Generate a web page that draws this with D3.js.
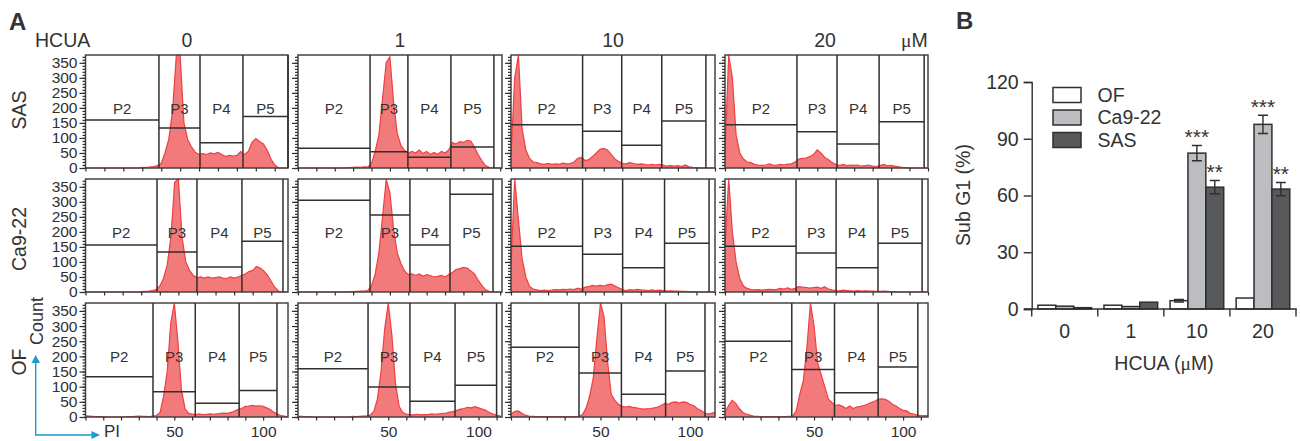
<!DOCTYPE html>
<html>
<head>
<meta charset="utf-8">
<script src="https://cdn.jsdelivr.net/npm/d3@7"></script>
<style>
body { margin: 0; background: #fff; }
text { font-family: "Liberation Sans", Arial, sans-serif; fill: #333; }
.mu { font-family: "Liberation Serif", serif; }
</style>
</head>
<body>
<script>
// histogram bins, one count per 2 PI units (0, 2, ... 114)
var xBins = d3.range(0, 116, 2);
var cellLines = ["SAS", "Ca9-22", "OF"];
var doses = ["0", "1", "10", "20"];
var gateNames = ["P2", "P3", "P4", "P5"];

var sas0 = [0,0,0,0,0,0,0,0,0,0,
  0,0,0,0,0,2,1,3,5,8,
  15,50,95,190,378,378,150,95,70,52,
  45,48,45,50,47,52,45,38,42,40,
  42,55,45,55,85,98,88,80,60,30,
  10,0,0,0,0,0,0,0];
var sas1 = [0,0,0,0,0,0,0,0,0,0,
  0,0,0,0,1,2,3,2,4,3,
  15,55,110,230,350,370,220,115,75,58,
  50,55,50,60,48,55,45,52,45,55,
  50,60,85,80,88,85,92,90,70,45,
  25,8,2,0,0,0,0,0];
var sas10 = [40,300,378,130,60,32,20,18,14,12,
  15,12,14,12,16,14,15,20,32,35,
  25,28,38,50,62,65,60,45,30,22,
  15,14,18,15,12,14,12,10,12,10,
  12,10,6,8,6,8,5,10,4,2,
  1,0,0,0,0,0,0,0];
var sas20 = [50,378,300,110,50,30,20,18,12,10,
  9,10,14,10,9,12,10,13,14,20,
  30,32,33,38,45,60,50,35,28,18,
  12,8,12,8,10,9,10,6,8,10,
  6,5,8,12,7,9,6,4,2,1,
  0,0,0,0,0,0,0,0];
var ca0 = [0,0,0,0,0,0,0,0,0,0,
  0,0,0,0,0,1,2,3,5,8,
  20,45,90,185,365,378,180,100,72,55,
  48,50,46,50,46,48,50,46,45,50,
  46,50,55,60,68,72,85,80,70,55,
  35,15,3,0,0,0,0,0];
var ca1 = [0,0,0,0,0,0,0,0,0,0,
  0,0,0,0,1,1,2,3,3,5,
  20,60,130,250,375,330,210,130,95,70,
  58,60,55,60,52,58,55,50,52,55,
  50,58,65,75,78,82,80,70,60,40,
  22,8,2,0,0,0,0,0];
var ca10 = [90,378,240,110,50,18,10,7,5,6,
  5,6,8,7,9,8,10,8,13,9,
  16,18,22,20,22,20,24,26,20,14,
  8,5,8,6,9,7,6,5,7,5,
  6,5,3,4,3,3,2,2,1,1,
  0,0,0,0,0,0,0,0];
var ca20 = [150,378,200,100,45,20,12,8,7,8,
  6,8,9,8,9,12,10,14,9,12,
  18,16,15,13,15,16,12,18,10,7,
  5,4,6,5,4,3,5,3,4,3,
  3,2,2,3,2,1,1,0,0,0,
  0,0,0,0,0,0,0,0];
var of0 = [4,3,2,1,1,1,0,0,0,0,
  0,0,1,1,2,3,2,2,1,3,
  5,15,70,150,310,378,250,90,28,12,
  10,8,10,8,9,10,9,10,12,13,
  12,15,20,25,28,35,36,38,36,37,
  35,30,25,16,10,5,3,0];
var of1 = [2,2,1,1,0,0,0,0,0,0,
  0,0,0,0,0,2,1,2,3,4,
  6,18,60,150,290,378,270,110,35,15,
  10,8,7,9,7,8,8,10,9,10,
  12,13,16,18,22,26,28,32,30,34,
  30,26,22,15,10,6,3,0];
var of10 = [10,18,20,12,6,3,2,1,1,1,
  1,1,1,1,1,1,1,1,1,2,
  8,30,70,130,260,378,330,180,75,55,
  42,35,33,35,32,30,28,26,27,28,
  30,33,38,45,42,48,50,46,50,48,
  42,38,28,22,14,10,12,15];
var of20 = [15,38,55,45,28,15,10,6,3,2,
  1,1,1,1,1,1,1,1,2,3,
  20,75,120,230,378,300,180,140,100,60,
  48,38,40,35,28,36,28,33,35,38,
  42,48,52,58,60,58,52,42,36,28,
  22,20,12,10,6,5,5,5];
var histograms = [
  [sas0, sas1, sas10, sas20],
  [ca0, ca1, ca10, ca20],
  [of0, of1, of10, of20]
];

// right edge of the PI scale for each panel
var piMax = [
  [107, 111, 110, 110],
  [109, 111, 110, 110],
  [114, 113, 114, 114]
];
// gate edges on the PI scale: P3, P4, P5 start and P5 end
var gateEdges = [
  [[38.8,60.5,83.2,107], [39.2,59.8,83.2,106.6], [38.6,59.7,81.3,105.1], [39,60.7,83.5,107.9]],
  [[38.5,60,84.2,106.3], [39.2,60.9,82.7,106.1], [38.6,60.2,82.8,106.8], [38.5,60.2,82.9,106.8]],
  [[38,61.8,86.5,107.8], [38.8,62,87,110], [38,61.7,86.4,108.4], [37.5,61.5,86,108.3]]
];
// gate heights (count): P2, P3, P4, P5
var gateLevels = [
  [[160,133,84,171], [66,54,36,70], [144,122,76,156], [144,121,80,154]],
  [[156,133,83,169], [305,256,156,325], [152,126,81,162], [152,130,81,162]],
  [[133,83,45,87], [159,99,52,105], [230,145,75,152], [250,157,80,165]]
];
var yTicksMajor = [0, 50, 100, 150, 200, 250, 300, 350];
var yTicksMinor = d3.range(0, 380, 10);
var xTicks = d3.range(0, 120, 10);
var xTickLabels = [50, 100];
var gateLabelCount = 198;

// panel B
var barDoses = ["0", "1", "10", "20"];
var barSeries = ["OF", "Ca9-22", "SAS"];
var ofValues = [2, 2, 4.4, 5.8];
var caValues = [1.5, 1.3, 82.4, 97.6];
var sasValues = [0.7, 3.6, 64.4, 63.4];
var ofErrors = [0, 0, 0.7, 0];
var caErrors = [0, 0, 4, 4.8];
var sasErrors = [0, 0, 3.5, 3.5];
var barStars = [["", "", ""], ["", "", ""], ["", "***", "**"], ["", "***", "**"]];
var barTicks = [0, 30, 60, 90, 120];

var barFill = {"OF": "#ffffff", "Ca9-22": "#bcbdc1", "SAS": "#58595b"};
var inkColor = "#2f2f2f";
var blue = "#1b9ad6";

var svg = d3.select("body").append("svg")
  .attr("width", 1301).attr("height", 441)
  .style("display", "block");

// layout of panel A in pixels
var colLeft = [85.5, 298, 511, 725];
var colRight = [288, 502, 715, 928];
var rowTop = [55, 179, 303];
var rowBottom = [168, 292, 417];

cellLines.forEach(function (cell, r) {
  doses.forEach(function (dose, c) {
    var x = d3.scaleLinear().domain([0, piMax[r][c]]).range([colLeft[c], colRight[c]]).clamp(true);
    var y = d3.scaleLinear().domain([0, 376]).range([rowBottom[r], rowTop[r]]).clamp(true);
    var g = svg.append("g");

    // histogram
    var area = d3.area()
      .x(function (d, i) { return x(xBins[i]); })
      .y0(y(0))
      .y1(function (d) { return y(d); });
    var line = d3.line()
      .x(function (d, i) { return x(xBins[i]); })
      .y(function (d) { return y(d); });
    g.append("path").attr("d", area(histograms[r][c])).attr("fill", "#f37a7a");
    g.append("path").attr("d", line(histograms[r][c]))
      .attr("fill", "none").attr("stroke", "#ee3f42").attr("stroke-width", 1.2);

    // frame
    g.append("rect")
      .attr("x", colLeft[c]).attr("y", rowTop[r])
      .attr("width", colRight[c] - colLeft[c]).attr("height", rowBottom[r] - rowTop[r])
      .attr("fill", "none").attr("stroke", "#444").attr("stroke-width", 1.5);

    // gates
    var edges = [0].concat(gateEdges[r][c]);
    gateNames.forEach(function (name, k) {
      var x0 = x(edges[k]), x1 = x(edges[k + 1]);
      g.append("line")
        .attr("x1", x0).attr("x2", x1)
        .attr("y1", y(gateLevels[r][c][k])).attr("y2", y(gateLevels[r][c][k]))
        .attr("stroke", inkColor).attr("stroke-width", 1.5);
      g.append("line")
        .attr("x1", x1).attr("x2", x1)
        .attr("y1", rowTop[r]).attr("y2", rowBottom[r])
        .attr("stroke", inkColor).attr("stroke-width", 1.5);
      g.append("text")
        .attr("x", (x0 + x1) / 2).attr("y", y(gateLabelCount) + 5.5)
        .attr("text-anchor", "middle").attr("font-size", 15)
        .text(name);
    });

    // axes
    var minor = d3.axisLeft(y).tickValues(yTicksMinor).tickSize(3).tickFormat("");
    var major = d3.axisLeft(y).tickValues(yTicksMajor).tickSize(6).tickPadding(2)
      .tickFormat(c === 0 ? d3.format("d") : "");
    var axisX = d3.axisBottom(x)
      .tickValues(xTicks.filter(function (t) { return t <= piMax[r][c]; }))
      .tickSize(3.5).tickPadding(5)
      .tickFormat(function (d) { return r === 2 && xTickLabels.indexOf(d) >= 0 ? d : ""; });

    [minor, major].forEach(function (axis) {
      var a = g.append("g").attr("transform", "translate(" + colLeft[c] + ",0)").call(axis);
      a.select(".domain").remove();
      a.selectAll("line").attr("stroke", inkColor).attr("stroke-width", 1.2);
      a.selectAll("text").attr("font-size", 15.5).style("font-family", null).style("fill", inkColor);
    });
    var ax = g.append("g").attr("transform", "translate(0," + rowBottom[r] + ")").call(axisX);
    ax.select(".domain").remove();
    ax.selectAll("line").attr("stroke", inkColor).attr("stroke-width", 1.2);
    ax.selectAll("text").attr("font-size", 15.5).style("fill", inkColor);
  });
});

// panel A headers and side labels
svg.append("text").attr("x", 9).attr("y", 30).attr("font-size", 24).attr("font-weight", "bold").text("A");
svg.append("text").attr("x", 35).attr("y", 47).attr("font-size", 19.5).text("HCUA");
var doseCenters = [187, 400, 613, 825];
doses.forEach(function (d, i) {
  svg.append("text").attr("x", doseCenters[i]).attr("y", 47)
    .attr("text-anchor", "middle").attr("font-size", 19.5).text(d);
});
var micro = svg.append("text").attr("x", 901).attr("y", 47).attr("font-size", 19.5);
micro.append("tspan").attr("class", "mu").text("\u03bc");
micro.append("tspan").text("M");

var sideCenters = [110, 239, 362];
cellLines.forEach(function (d, i) {
  svg.append("text")
    .attr("transform", "translate(26," + sideCenters[i] + ") rotate(-90)")
    .attr("text-anchor", "middle").attr("font-size", 19.5).text(d);
});
svg.append("text")
  .attr("transform", "translate(43,321) rotate(-90)")
  .attr("text-anchor", "middle").attr("font-size", 18).text("Count");
svg.append("text").attr("x", 104).attr("y", 437).attr("font-size", 17).text("PI");

// blue arrows
svg.append("path").attr("d", "M35.7,362V435H92").attr("fill", "none").attr("stroke", blue).attr("stroke-width", 1.4);
svg.append("path").attr("d", "M35.7,355L31.5,363H40Z").attr("fill", blue);
svg.append("path").attr("d", "M100,435L91.5,431V439Z").attr("fill", blue);

// panel B
var bx = d3.scaleBand().domain(barDoses).range([1031.7, 1296]);
var bs = d3.scaleBand().domain(barSeries).range([6.2, bx.bandwidth() - 6.2]);
var by = d3.scaleLinear().domain([0, 120]).range([309, 82]);
var seriesValues = [ofValues, caValues, sasValues];
var seriesErrors = [ofErrors, caErrors, sasErrors];
var b = svg.append("g");

barSeries.forEach(function (s, k) {
  b.selectAll(".bar" + k)
    .data(barDoses)
    .enter().append("rect")
    .attr("class", "bar" + k)
    .attr("x", function (d) { return bx(d) + bs(s); })
    .attr("y", function (d, i) { return by(seriesValues[k][i]); })
    .attr("width", bs.bandwidth())
    .attr("height", function (d, i) { return by(0) - by(seriesValues[k][i]); })
    .attr("fill", barFill[s])
    .attr("stroke", inkColor)
    .attr("stroke-width", 1.5);

  barDoses.forEach(function (d, i) {
    var err = seriesErrors[k][i], v = seriesValues[k][i];
    var cx = bx(d) + bs(s) + bs.bandwidth() / 2;
    if (err > 0) {
      b.append("path")
        .attr("d", "M" + (cx - 5) + "," + by(v + err) + "h10M" + cx + "," + by(v + err) + "V" + by(v - err) + "M" + (cx - 5) + "," + by(v - err) + "h10")
        .attr("fill", "none").attr("stroke", inkColor).attr("stroke-width", 1.4);
    }
    if (barStars[i][k]) {
      b.append("text")
        .attr("x", cx).attr("y", by(v + err) - 1.5)
        .attr("text-anchor", "middle").attr("font-size", 21)
        .text(barStars[i][k]);
    }
  });
});

var yAxisB = b.append("g").attr("transform", "translate(1031.7,0)")
  .call(d3.axisLeft(by).tickValues(barTicks).tickSize(8).tickPadding(5));
var xAxisB = b.append("g").attr("transform", "translate(0,309)")
  .call(d3.axisBottom(bx).tickSize(0).tickPadding(15));
// boundary ticks sit between the bar groups
b.selectAll(".gridTick")
  .data(barDoses.concat("end"))
  .enter().append("line")
  .attr("x1", function (d) { return d === "end" ? bx.range()[1] : bx(d); })
  .attr("x2", function (d) { return d === "end" ? bx.range()[1] : bx(d); })
  .attr("y1", 309).attr("y2", 316.5)
  .attr("stroke", inkColor).attr("stroke-width", 1.4);
[yAxisB, xAxisB].forEach(function (a) {
  a.selectAll(".domain, line").attr("stroke", inkColor).attr("stroke-width", 1.4);
  a.selectAll("text").attr("font-size", 19.5).style("fill", inkColor);
});
xAxisB.select(".domain").remove();
b.append("line").attr("x1", 1024).attr("x2", 1296.7).attr("y1", 309).attr("y2", 309)
  .attr("stroke", inkColor).attr("stroke-width", 1.4);

// legend
var legendY = [87.5, 110, 132.5];
barSeries.forEach(function (s, i) {
  b.append("rect").attr("x", 1053).attr("y", legendY[i]).attr("width", 28).attr("height", 15)
    .attr("fill", barFill[s]).attr("stroke", inkColor).attr("stroke-width", 1.5);
  b.append("text").attr("x", 1097.5).attr("y", legendY[i] + 14.3).attr("font-size", 19.5).text(s);
});

svg.append("text").attr("x", 956).attr("y", 29).attr("font-size", 24).attr("font-weight", "bold").text("B");
svg.append("text").attr("transform", "translate(970,195) rotate(-90)")
  .attr("text-anchor", "middle").attr("font-size", 19.5).text("Sub G1 (%)");
var hcuaLabel = svg.append("text").attr("x", 1164).attr("y", 370)
  .attr("text-anchor", "middle").attr("font-size", 19.5);
hcuaLabel.append("tspan").text("HCUA (");
hcuaLabel.append("tspan").attr("class", "mu").text("\u03bc");
hcuaLabel.append("tspan").text("M)");
</script>
</body>
</html>
